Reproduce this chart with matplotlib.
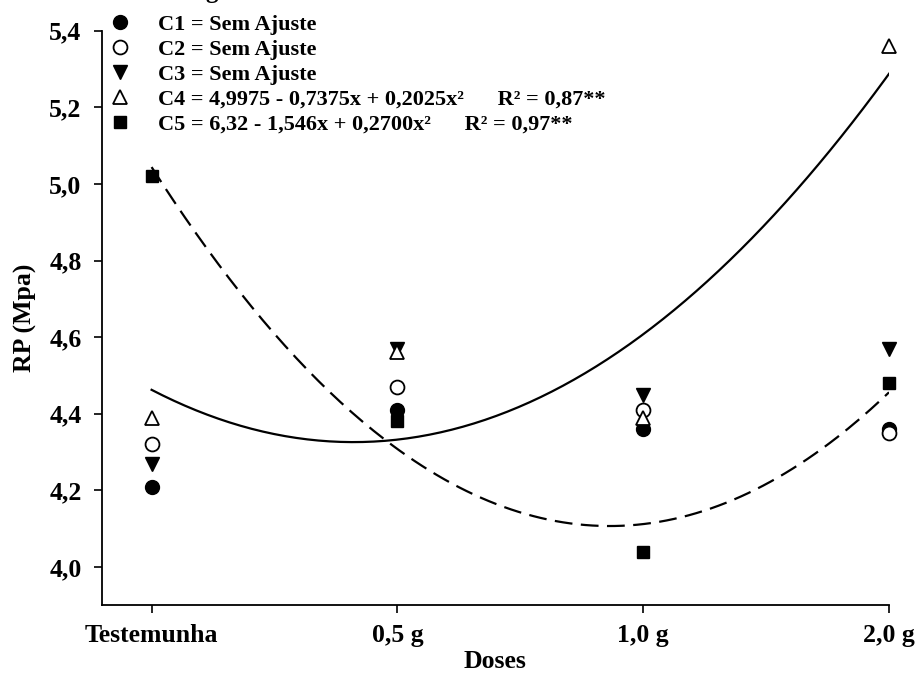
import numpy as np
import matplotlib
matplotlib.use("Agg")
import matplotlib.pyplot as plt
from matplotlib.lines import Line2D

plt.rcParams['font.family'] = ['Liberation Serif', 'DejaVu Serif']
plt.rcParams['font.weight'] = 'bold'

# data
doses = ['Testemunha', '0,5 g', '1,0 g', '2,0 g']
xpos = [1, 2, 3, 4]
c1 = [4.21, 4.41, 4.36, 4.36]
c2 = [4.32, 4.47, 4.41, 4.35]
c3 = [4.27, 4.57, 4.45, 4.57]
c4 = [4.39, 4.56, 4.39, 5.36]
c5 = [5.02, 4.38, 4.04, 4.48]

# fitted curves (coefficients from the legend)
c4_coef = [4.9975, -0.7375, 0.2025]
c5_coef = [6.32, -1.546, 0.2700]

fig = plt.figure(figsize=(9.21, 6.75), dpi=100)
ax = fig.add_axes([101.7/921, 1-605.3/675, (889-101.7)/921, (605.3-30.7)/675])

xs = np.linspace(1, 4, 200)
y4 = c4_coef[0] + c4_coef[1]*xs + c4_coef[2]*xs**2
y5 = c5_coef[0] + c5_coef[1]*xs + c5_coef[2]*xs**2
ax.plot(xs, y4, color='black', lw=1.6, zorder=2)
ax.plot(xs, y5, color='black', lw=1.6, ls=(0, (8.0, 3.8)), zorder=2)

ms = 10
ax.plot(xpos, c1, ls='none', marker='o', ms=ms, mfc='black', mec='black', clip_on=False, zorder=3)
ax.plot(xpos, c2, ls='none', marker='o', ms=ms, mfc='white', mec='black', mew=1.3, clip_on=False, zorder=3)
ax.plot(xpos, c3, ls='none', marker='v', ms=ms, mfc='black', mec='black', clip_on=False, zorder=3)
ax.plot(xpos, c4, ls='none', marker='^', ms=ms, mfc='white', mec='black', mew=1.3, clip_on=False, zorder=3)
ax.plot(xpos, c5, ls='none', marker='s', ms=ms-1, mfc='black', mec='black', clip_on=False, zorder=3)

ax.set_xlim(0.797, 4.0)
ax.set_ylim(3.9, 5.4)
ax.spines['top'].set_visible(False)
ax.spines['right'].set_visible(False)
for s in ['left', 'bottom']:
    ax.spines[s].set_linewidth(1.3)

ax.set_xticks(xpos)
ax.set_xticklabels(doses)
yt = np.arange(4.0, 5.41, 0.2)
ax.set_yticks(yt)
ax.set_yticklabels([f'{v:.1f}'.replace('.', ',') for v in yt])
ax.tick_params(axis='both', direction='out', length=5.5, width=1.2, labelsize=18.5, pad=9)
ax.tick_params(axis='x', pad=8)

ax.set_xlabel('Doses', fontsize=18.5, fontweight='bold', labelpad=2)
ax.set_ylabel('RP (Mpa)', fontsize=18.5, fontweight='bold', labelpad=9)

handles = [
    Line2D([], [], ls='none', marker='o', ms=ms, mfc='black', mec='black'),
    Line2D([], [], ls='none', marker='o', ms=ms, mfc='white', mec='black', mew=1.3),
    Line2D([], [], ls='none', marker='v', ms=ms, mfc='black', mec='black'),
    Line2D([], [], ls='none', marker='^', ms=ms, mfc='white', mec='black', mew=1.3),
    Line2D([], [], ls='none', marker='s', ms=ms-1, mfc='black', mec='black'),
]
labels = [
    'C1 = Sem Ajuste',
    'C2 = Sem Ajuste',
    'C3 = Sem Ajuste',
    'C4 = 4,9975 - 0,7375x + 0,2025x\u00b2      R\u00b2 = 0,87**',
    'C5 = 6,32 - 1,546x + 0,2700x\u00b2      R\u00b2 = 0,97**',
]
fig.legend(handles, labels, loc='upper left', bbox_to_anchor=(109/921, 1-14/675),
           frameon=False, prop={'weight': 'bold', 'size': 16},
           handlelength=1.0, handletextpad=1.2, labelspacing=0.2, borderpad=0,
           borderaxespad=0)

# clipped title remnant at the very top
fig.text(212/921, 1+2/675, 'g', fontsize=18, ha='center', va='baseline')

fig.savefig('out.png', dpi=100)
